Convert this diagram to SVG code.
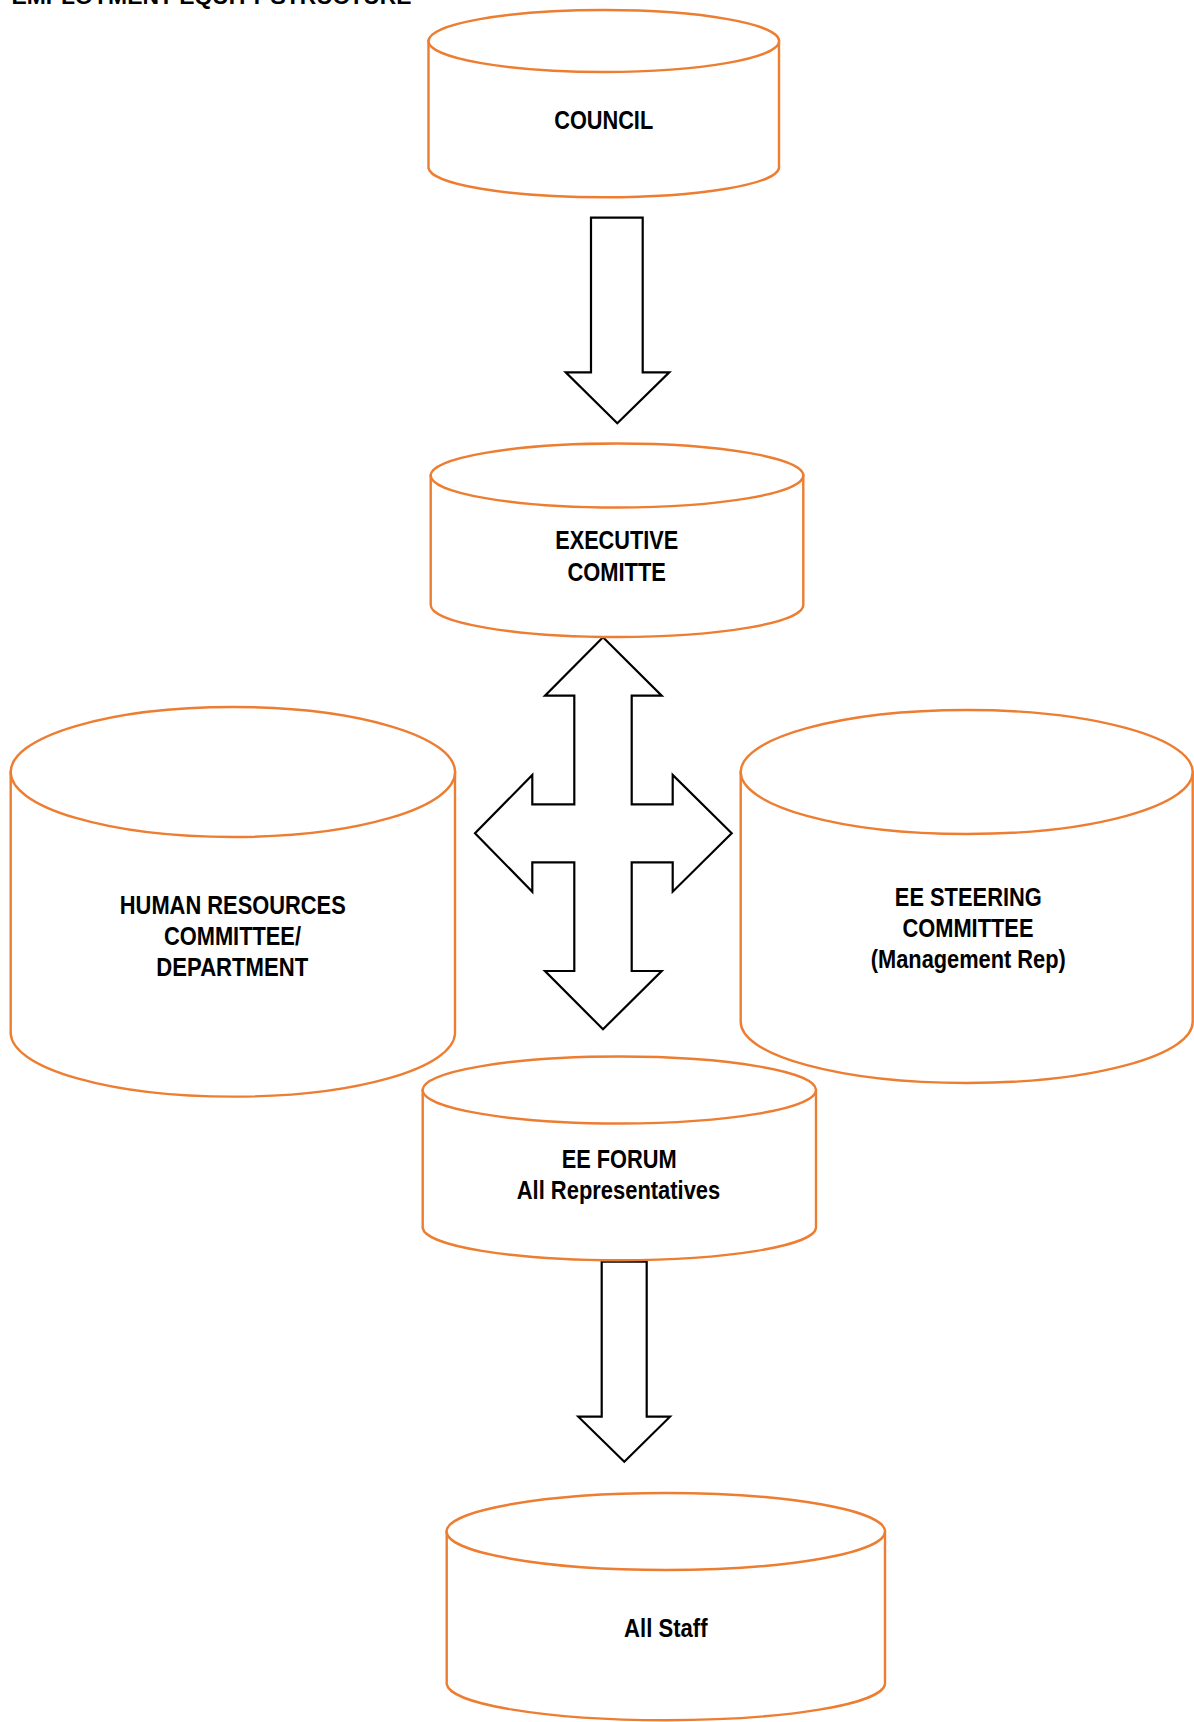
<svg xmlns="http://www.w3.org/2000/svg" width="1194" height="1722" viewBox="0 0 1194 1722">
<style>
.cyl{fill:#fff;stroke:#ED7D31;stroke-width:2.4}
.arr{fill:#fff;stroke:#000;stroke-width:2.2;stroke-linejoin:miter}
.t{font-family:"Liberation Sans",Arial,sans-serif;font-weight:bold;font-size:26px;fill:#000;text-anchor:middle}
.title{font-family:"Liberation Sans",Arial,sans-serif;font-weight:bold;font-size:22px;fill:#000}
</style>
<rect width="1194" height="1722" fill="#fff"/>
<text class="title" x="11.5" y="4" textLength="400" lengthAdjust="spacingAndGlyphs">EMPLOYMENT EQUITY STRUCTURE</text>

<g id="connectors">
<path class="arr" d="M591,217.7 L642.7,217.7 L642.7,372.3 L669.3,372.3 L617.3,423.3 L565.7,372.3 L591,372.3 Z"/>
<path class="arr" d="M603,637.3 L661.7,695.7 L631.7,695.7 L631.7,804.3 L672.7,804.3 L672.7,775 L731.7,833.3 L672.7,891.7 L672.7,862.3 L631.7,862.3 L631.7,971 L661.7,971 L603,1029.3 L545,971 L574.3,971 L574.3,862.3 L532.3,862.3 L532.3,891.7 L475,833.3 L532.3,775 L532.3,804.3 L574.3,804.3 L574.3,695.7 L545,695.7 Z"/>
<path class="arr" d="M601.7,1261.7 L646.7,1261.7 L646.7,1416.7 L670,1416.7 L624.3,1461.7 L578.3,1416.7 L601.7,1416.7 Z"/>
</g>

<g id="council">
<path class="cyl" d="M428.5,41 L428.5,168 A175.3,30 0 0 0 779,168 L779,41 Z"/>
<ellipse class="cyl" cx="603.8" cy="41" rx="175.3" ry="31"/>
<text class="t" x="603.7" y="129.3" textLength="99" lengthAdjust="spacingAndGlyphs">COUNCIL</text>
</g>

<g id="executive">
<path class="cyl" d="M430.7,475.5 L430.7,605 A186.3,32 0 0 0 803.3,605 L803.3,475.5 Z"/>
<ellipse class="cyl" cx="617" cy="475.5" rx="186.3" ry="32"/>
<text class="t" x="616.7" y="549.3" textLength="123" lengthAdjust="spacingAndGlyphs">EXECUTIVE</text>
<text class="t" x="616.7" y="581" textLength="98.5" lengthAdjust="spacingAndGlyphs">COMITTE</text>
</g>

<g id="hr">
<path class="cyl" d="M10.7,772 L10.7,1034 A222.2,64 0 0 0 455,1034 L455,772 Z"/>
<ellipse class="cyl" cx="232.9" cy="772" rx="222.2" ry="65"/>
<text class="t" x="232.8" y="914.3" textLength="226" lengthAdjust="spacingAndGlyphs">HUMAN RESOURCES</text>
<text class="t" x="232.5" y="945" textLength="137" lengthAdjust="spacingAndGlyphs">COMMITTEE/</text>
<text class="t" x="232.3" y="976" textLength="152" lengthAdjust="spacingAndGlyphs">DEPARTMENT</text>
</g>

<g id="steering">
<path class="cyl" d="M740.7,772 L740.7,1022 A226,61 0 0 0 1192.7,1022 L1192.7,772 Z"/>
<ellipse class="cyl" cx="966.7" cy="772" rx="226" ry="62"/>
<text class="t" x="968.3" y="906" textLength="147" lengthAdjust="spacingAndGlyphs">EE STEERING</text>
<text class="t" x="968" y="936.7" textLength="131" lengthAdjust="spacingAndGlyphs">COMMITTEE</text>
<text class="t" x="968.3" y="967.7" textLength="195" lengthAdjust="spacingAndGlyphs">(Management Rep)</text>
</g>

<g id="forum">
<path class="cyl" d="M422.7,1090 L422.7,1228 A196.7,33 0 0 0 816,1228 L816,1090 Z"/>
<ellipse class="cyl" cx="619.3" cy="1090" rx="196.7" ry="33.5"/>
<text class="t" x="619.2" y="1168.3" textLength="115" lengthAdjust="spacingAndGlyphs">EE FORUM</text>
<text class="t" x="618.5" y="1199" textLength="203.5" lengthAdjust="spacingAndGlyphs">All Representatives</text>
</g>

<g id="allstaff">
<path class="cyl" d="M446.7,1531.5 L446.7,1684 A219.2,37 0 0 0 885,1684 L885,1531.5 Z"/>
<ellipse class="cyl" cx="665.8" cy="1531.5" rx="219.2" ry="38.5"/>
<text class="t" x="665.8" y="1636.7" textLength="83.5" lengthAdjust="spacingAndGlyphs">All Staff</text>
</g>
</svg>
